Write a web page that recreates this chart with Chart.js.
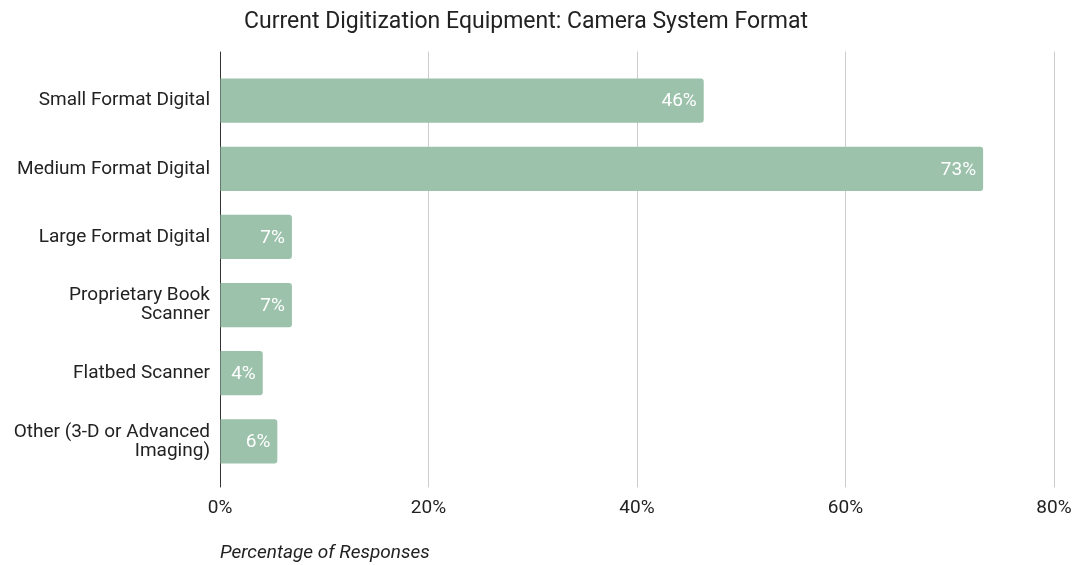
<!DOCTYPE html>
<html>
<head>
<meta charset="utf-8">
<script src="https://cdn.jsdelivr.net/npm/chart.js@4.4.1/dist/chart.umd.min.js"></script>
<style>
  html, body { margin: 0; padding: 0; background: #fff; }
  #wrap { width: 1076px; height: 565px; }
</style>
</head>
<body>
<div id="wrap"><canvas id="chart"></canvas></div>
<script>
// Current Digitization Equipment: Camera System Format — horizontal bars
const CATEGORIES = [
    'Small Format Digital',
    'Medium Format Digital',
    'Large Format Digital',
    ['Proprietary Book', 'Scanner'],
    'Flatbed Scanner',
    ['Other (3-D or Advanced', 'Imaging)'],
];
const SHARES = [46.4, 73.2, 6.9, 6.9, 4.1, 5.5];
const SHARE_LABELS = ['46%', '73%', '7%', '7%', '4%', '6%'];
const X_MAX = 80;
const X_STEP = 20;

const BAR_COLOR = '#9cc2ab';
const GRID_COLOR = '#cccccc';
const AXIS_COLOR = '#333333';
const FONT = 'Roboto, "Noto Sans", sans-serif';

Chart.defaults.font.family = FONT;
Chart.defaults.color = '#222';

const gridColor = ctx => (ctx.tick && ctx.tick.value === 0 ? AXIS_COLOR : GRID_COLOR);

// white value labels just inside the end of each bar
const barLabels = {
    id: 'barLabels',
    afterDatasetsDraw(chart) {
        const { ctx } = chart;
        const meta = chart.getDatasetMeta(0);
        ctx.save();
        ctx.fillStyle = '#fff';
        ctx.font = '19px ' + FONT;
        ctx.textAlign = 'right';
        ctx.textBaseline = 'middle';
        meta.data.forEach((bar, i) => {
            ctx.fillText(SHARE_LABELS[i], bar.x - 7, bar.y + 1);
        });
        ctx.restore();
    },
};

new Chart(document.getElementById('chart'), {
    type: 'bar',
    data: {
        labels: CATEGORIES,
        datasets: [{
            label: 'Percentage of Responses',
            data: SHARES,
            backgroundColor: BAR_COLOR,
            borderRadius: 3,
            borderSkipped: 'start',
            barPercentage: 0.72,
            categoryPercentage: 0.9,
        }],
    },
    options: {
        indexAxis: 'y',
        responsive: true,
        maintainAspectRatio: false,
        animation: false,
        layout: { padding: { left: -24, right: 0, top: 0, bottom: 0 } },
        plugins: {
            legend: { display: false },
            tooltip: { enabled: false },
            title: {
                display: true,
                text: 'Current Digitization Equipment: Camera System Format',
                color: '#222',
                font: { size: 23, weight: 'normal' },
                padding: { top: 8, bottom: 16 },
            },
        },
        scales: {
            x: {
                type: 'linear',
                min: 0, max: X_MAX,
                ticks: { stepSize: X_STEP, padding: 9, font: { size: 19 }, color: '#222', callback: v => v + '%' },
                grid: { color: gridColor, tickLength: 12, drawTicks: true },
                border: { display: false },
                title: {
                    display: true,
                    text: 'Percentage of Responses',
                    align: 'start',
                    color: '#222',
                    font: { size: 19, style: 'italic' },
                    padding: { top: 14, bottom: 0 },
                },
                afterFit: scale => { scale.paddingRight = 22; },
            },
            xTop: {
                type: 'linear',
                position: 'top',
                min: 0, max: X_MAX,
                ticks: { stepSize: X_STEP, display: false },
                grid: { color: gridColor, tickLength: 15, drawOnChartArea: false },
                border: { display: false },
            },
            y: {
                ticks: { padding: 10, font: { size: 19, lineHeight: 1.0 }, color: '#222' },
                grid: { display: false, drawTicks: false },
                border: { display: false },
                afterFit: scale => { scale.width = 244; },
            },
        },
    },
    plugins: [barLabels],
});
</script>
</body>
</html>
